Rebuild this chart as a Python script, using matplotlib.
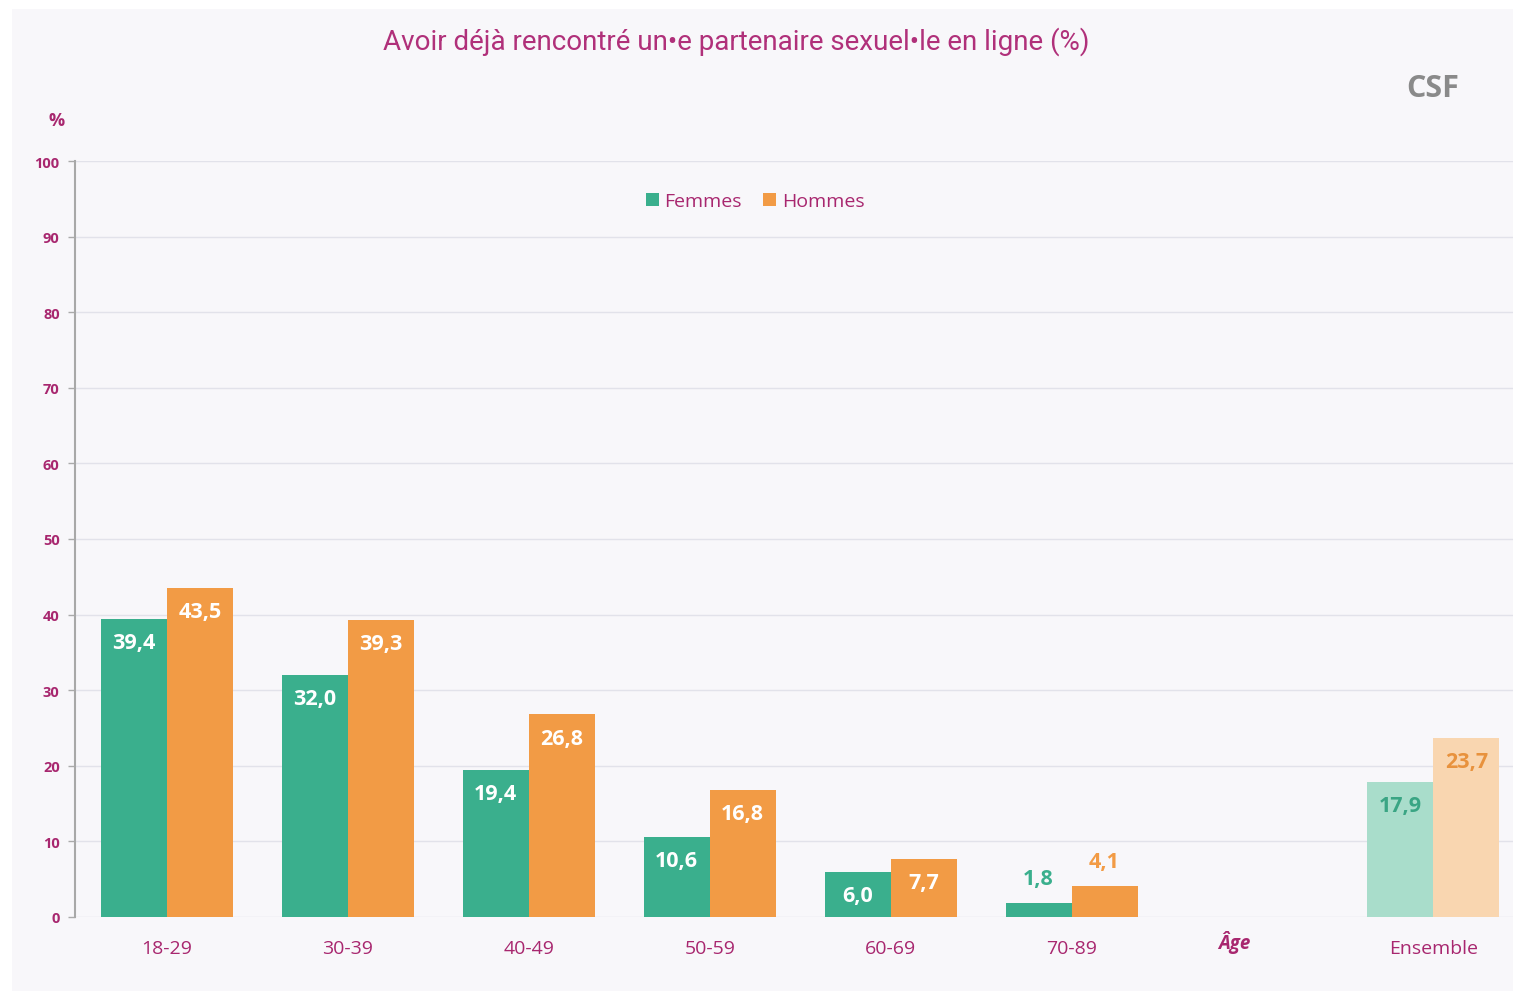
import numpy as np
import matplotlib.pyplot as plt
from matplotlib.patches import Rectangle

categories = ['18-29', '30-39', '40-49', '50-59', '60-69', '70-89']
femmes = [39.4, 32.0, 19.4, 10.6, 6.0, 1.8]
hommes = [43.5, 39.3, 26.8, 16.8, 7.7, 4.1]
ensemble_label = 'Ensemble'
ensemble_femmes = 17.9
ensemble_hommes = 23.7
yticks = [0, 10, 20, 30, 40, 50, 60, 70, 80, 90, 100]

green = '#3aaf8d'
orange = '#f29b45'
green_light = '#a9ddcb'
orange_light = '#f9d6b0'
magenta = '#a8276f'
panel = '#f8f7fa'

plt.rcParams['font.family'] = ['Open Sans', 'DejaVu Sans']

fig = plt.figure(figsize=(15.13, 9.95), dpi=100, facecolor='white')
fig.patches.append(Rectangle((12 / 1513, 3 / 995), 1 - 12 / 1513, 1 - 13 / 995,
                             transform=fig.transFigure, facecolor=panel,
                             edgecolor='none', zorder=-10))

ax = fig.add_axes([75 / 1513, 1 - 918 / 995, 1 - 75 / 1513, (918 - 162) / 995])
ax.patch.set_alpha(0)

w = 66 / 181
x = np.arange(len(categories))
x_ens = 7

ax.bar(x - w / 2, femmes, w, color=green, label='Femmes', zorder=3)
ax.bar(x + w / 2, hommes, w, color=orange, label='Hommes', zorder=3)
ax.bar(x_ens - w / 2, ensemble_femmes, w, color=green_light, zorder=3)
ax.bar(x_ens + w / 2, ensemble_hommes, w, color=orange_light, zorder=3)


def fmt(v):
    return f'{v:.1f}'.replace('.', ',')


def label(xi, v, inside, color):
    dy = -17 if inside else 18
    ax.annotate(fmt(v), (xi, v), xytext=(0, dy), textcoords='offset points',
                ha='center', va='center', color=color, fontsize=15.5,
                fontweight='bold', zorder=4)


for xi, v in zip(x - w / 2, femmes):
    label(xi, v, v > 4, 'white' if v > 4 else green)
for xi, v in zip(x + w / 2, hommes):
    label(xi, v, v > 4.5, 'white' if v > 4.5 else orange)
label(x_ens - w / 2, ensemble_femmes, True, '#3aa584')
label(x_ens + w / 2, ensemble_hommes, True, '#e8923d')

ax.set_xlim(-0.508, 7.44)
ax.set_ylim(0, 100)
ax.set_yticks(yticks)
ax.set_yticklabels([str(t) for t in yticks], color=magenta, fontsize=10.5,
                   fontweight='bold')
ax.tick_params(axis='y', length=5, width=1, color='#aaaaaa', pad=6)
ax.set_xticks(list(x) + [x_ens])
ax.set_xticklabels(categories + [ensemble_label], color=magenta, fontsize=14)
ax.tick_params(axis='x', length=0, pad=16)
ax.grid(axis='y', color='#e2e2ea', linewidth=1, zorder=0)
for s in ['top', 'right', 'bottom']:
    ax.spines[s].set_visible(False)
ax.spines['left'].set_color('#a8a8a8')
ax.spines['left'].set_linewidth(1.5)

ax.text(5.9, -3.2, 'Âge', color=magenta, fontsize=13.5, fontweight='bold',
        fontstyle='italic', ha='center', va='center')
fig.text(57 / 1513, 1 - 121 / 995, '%', color=magenta, fontsize=13,
         fontweight='bold', ha='center', va='center')

leg = ax.legend(loc='center', bbox_to_anchor=(0.473, 0.947), ncol=2, frameon=False,
                fontsize=14, handlelength=0.65, handleheight=0.65, handletextpad=0.3,
                columnspacing=1.1)
for t in leg.get_texts():
    t.set_color(magenta)

fig.text(736 / 1513, 1 - 42 / 995, 'Avoir déjà rencontré un•e partenaire sexuel•le en ligne (%)',
         ha='center', va='center', color='#b0307a', fontsize=20,
         family=['Roboto', 'DejaVu Sans'])
fig.text(1433 / 1513, 1 - 89 / 995, 'CSF', ha='center', va='center',
         color='#8a8a8a', fontsize=22, fontweight='bold')

fig.savefig('out.png', dpi=100, facecolor=fig.get_facecolor())
